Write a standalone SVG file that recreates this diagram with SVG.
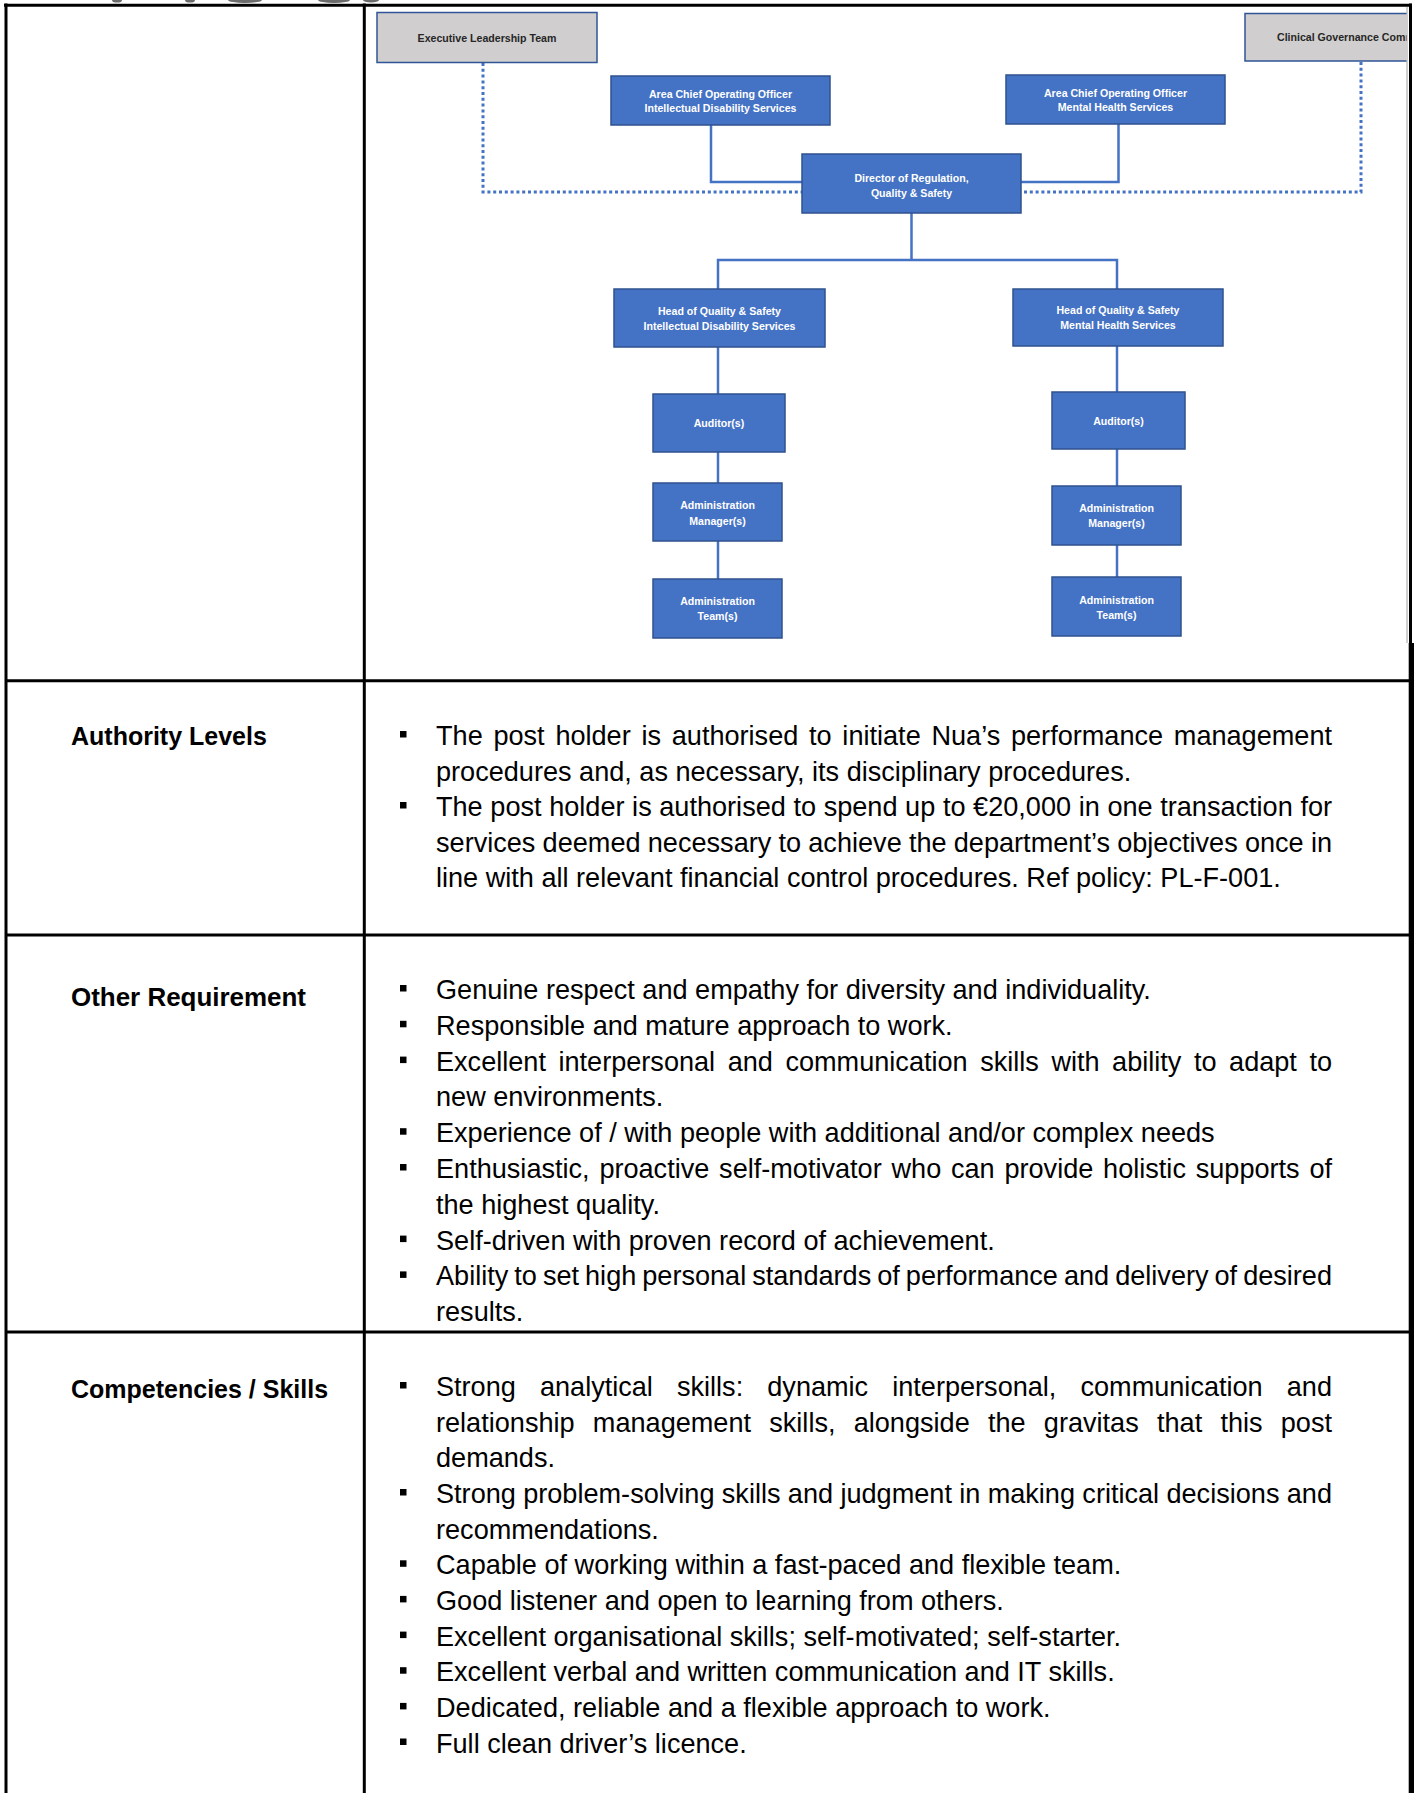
<svg xmlns="http://www.w3.org/2000/svg" width="1418" height="1793" viewBox="0 0 1418 1793">
<style>
.box{fill:#4472C4;stroke:#2F528F;stroke-width:1.5}
.gbox{fill:#D0CECE;stroke:#2F5597;stroke-width:1.5}
.nt{font-family:"Liberation Sans",Arial,sans-serif;font-weight:bold;font-size:10.6px;fill:#ffffff;text-anchor:middle}
.gt{font-family:"Liberation Sans",Arial,sans-serif;font-weight:bold;font-size:10.6px;fill:#262626}
.conn{fill:none;stroke:#4472C4;stroke-width:2.5}
.dot{fill:none;stroke:#4472C4;stroke-width:3;stroke-dasharray:3 2.8}
.body{font-family:"Liberation Sans",Arial,sans-serif;font-size:27.1px;fill:#000}
.lbl{font-family:"Liberation Sans",Arial,sans-serif;font-size:25px;font-weight:bold;fill:#000}
.rule{stroke:#000;stroke-width:3;fill:none}
.blt{fill:#000}
.glyph{fill:#6b6b6b}
</style>
<defs>
<clipPath id="chartclip"><rect x="366" y="7" width="1040.5" height="673"/></clipPath>
</defs>
<rect x="0" y="0" width="1418" height="1793" fill="#ffffff"/>

<g id="header-fragments">
<ellipse class="glyph" cx="117" cy="0" rx="5" ry="2.6"/>
<ellipse class="glyph" cx="190" cy="0" rx="5" ry="2.6"/>
<ellipse class="glyph" cx="245" cy="0" rx="17" ry="3"/>
<ellipse class="glyph" cx="334" cy="0" rx="16" ry="3"/>
<ellipse class="glyph" cx="371" cy="0" rx="8" ry="2.6"/>
</g>

<g id="table-grid">
<line class="rule" x1="4" y1="5.2" x2="1412" y2="5.2" stroke-width="3.3"/>
<line class="rule" x1="6" y1="3.5" x2="6" y2="1793" stroke-width="3.5"/>
<line class="rule" x1="364.3" y1="3.5" x2="364.3" y2="1793"/>
<line class="rule" x1="1410.5" y1="3.5" x2="1410.5" y2="1793" stroke-width="2.5"/>
<rect x="1408.7" y="643" width="5.3" height="1150" fill="#000"/>
<line x1="1407" y1="7" x2="1407" y2="643" stroke="#a0a0a0" stroke-width="1"/>
<line class="rule" x1="6" y1="680.7" x2="1411" y2="680.7"/>
<line class="rule" x1="6" y1="935" x2="1411" y2="935"/>
<line class="rule" x1="6" y1="1332" x2="1411" y2="1332"/>
</g>

<g id="connectors">
<path class="dot" d="M483 63 V192 H802"/>
<path class="dot" d="M1361 62 V192 H1021"/>
<path class="conn" d="M711 125 V182 H802"/>
<path class="conn" d="M1118.5 124 V182 H1021"/>
<path class="conn" d="M911.5 213 V260"/>
<path class="conn" d="M718 289 V260 H1117 V289"/>
<path class="conn" d="M718 347 V394"/>
<path class="conn" d="M718 452 V483"/>
<path class="conn" d="M718 541 V579"/>
<path class="conn" d="M1117 346 V392"/>
<path class="conn" d="M1117 449 V486"/>
<path class="conn" d="M1117 545 V577"/>
</g>

<g id="node-elt">
<rect class="gbox" x="377" y="12.5" width="220" height="50"/>
<text class="gt" x="487" y="41.5" text-anchor="middle">Executive Leadership Team</text>
</g>
<g id="node-cgc" clip-path="url(#chartclip)">
<rect class="gbox" x="1245" y="13.5" width="200" height="47.5"/>
<text class="gt" x="1277" y="41">Clinical Governance Comm</text>
</g>
<g id="node-coo-id">
<rect class="box" x="611" y="76" width="219" height="49"/>
<text class="nt" x="720.5" y="97.5">Area Chief Operating Officer</text>
<text class="nt" x="720.5" y="111.5">Intellectual Disability Services</text>
</g>
<g id="node-coo-mh">
<rect class="box" x="1006" y="75" width="219" height="49"/>
<text class="nt" x="1115.5" y="97">Area Chief Operating Officer</text>
<text class="nt" x="1115.5" y="111">Mental Health Services</text>
</g>
<g id="node-director">
<rect class="box" x="802" y="154" width="219" height="59"/>
<text class="nt" x="911.5" y="181.5">Director of Regulation,</text>
<text class="nt" x="911.5" y="196.5">Quality &amp; Safety</text>
</g>
<g id="node-hqs-id">
<rect class="box" x="614" y="289" width="211" height="58"/>
<text class="nt" x="719.5" y="315">Head of Quality &amp; Safety</text>
<text class="nt" x="719.5" y="330">Intellectual Disability Services</text>
</g>
<g id="node-hqs-mh">
<rect class="box" x="1013" y="289" width="210" height="57"/>
<text class="nt" x="1118" y="314">Head of Quality &amp; Safety</text>
<text class="nt" x="1118" y="329">Mental Health Services</text>
</g>
<g id="node-aud-id">
<rect class="box" x="653" y="394" width="132" height="58"/>
<text class="nt" x="719" y="427">Auditor(s)</text>
</g>
<g id="node-aud-mh">
<rect class="box" x="1052" y="392" width="133" height="57"/>
<text class="nt" x="1118.5" y="425">Auditor(s)</text>
</g>
<g id="node-am-id">
<rect class="box" x="653" y="483" width="129" height="58"/>
<text class="nt" x="717.5" y="509">Administration</text>
<text class="nt" x="717.5" y="524.5">Manager(s)</text>
</g>
<g id="node-am-mh">
<rect class="box" x="1052" y="486" width="129" height="59"/>
<text class="nt" x="1116.5" y="511.5">Administration</text>
<text class="nt" x="1116.5" y="527">Manager(s)</text>
</g>
<g id="node-at-id">
<rect class="box" x="653" y="579" width="129" height="59"/>
<text class="nt" x="717.5" y="604.5">Administration</text>
<text class="nt" x="717.5" y="620">Team(s)</text>
</g>
<g id="node-at-mh">
<rect class="box" x="1052" y="577" width="129" height="59"/>
<text class="nt" x="1116.5" y="603.5">Administration</text>
<text class="nt" x="1116.5" y="618.5">Team(s)</text>
</g>

<g id="authority">
<text class="lbl" x="71" y="745">Authority Levels</text>
<rect class="blt" x="400" y="731" width="6.5" height="6.5"/>
<rect class="blt" x="400" y="802" width="6.5" height="6.5"/>
<text class="body" x="436" y="745" word-spacing="3.2" textLength="896" lengthAdjust="spacing">The post holder is authorised to initiate Nua’s performance management</text>
<text class="body" x="436" y="780.5">procedures and, as necessary, its disciplinary procedures.</text>
<text class="body" x="436" y="816" word-spacing="0.1" textLength="896" lengthAdjust="spacing">The post holder is authorised to spend up to €20,000 in one transaction for</text>
<text class="body" x="436" y="851.5" word-spacing="-0.35" textLength="896" lengthAdjust="spacing">services deemed necessary to achieve the department’s objectives once in</text>
<text class="body" x="436" y="887">line with all relevant financial control procedures. Ref policy: PL-F-001.</text>
</g>

<g id="other-requirement">
<text class="lbl" x="71" y="1006" textLength="235" lengthAdjust="spacingAndGlyphs">Other Requirement</text>
<rect class="blt" x="400" y="985" width="6.5" height="6.5"/>
<rect class="blt" x="400" y="1020.8" width="6.5" height="6.5"/>
<rect class="blt" x="400" y="1056.6" width="6.5" height="6.5"/>
<rect class="blt" x="400" y="1128.2" width="6.5" height="6.5"/>
<rect class="blt" x="400" y="1164" width="6.5" height="6.5"/>
<rect class="blt" x="400" y="1235.6" width="6.5" height="6.5"/>
<rect class="blt" x="400" y="1271.4" width="6.5" height="6.5"/>
<text class="body" x="436" y="999">Genuine respect and empathy for diversity and individuality.</text>
<text class="body" x="436" y="1034.8">Responsible and mature approach to work.</text>
<text class="body" x="436" y="1070.6" word-spacing="5" textLength="896" lengthAdjust="spacing">Excellent interpersonal and communication skills with ability to adapt to</text>
<text class="body" x="436" y="1106.4">new environments.</text>
<text class="body" x="436" y="1142.2">Experience of / with people with additional and/or complex needs</text>
<text class="body" x="436" y="1178" word-spacing="2.25" textLength="896" lengthAdjust="spacing">Enthusiastic, proactive self-motivator who can provide holistic supports of</text>
<text class="body" x="436" y="1213.8">the highest quality.</text>
<text class="body" x="436" y="1249.6">Self-driven with proven record of achievement.</text>
<text class="body" x="436" y="1285.4" word-spacing="-1.5" textLength="896" lengthAdjust="spacing">Ability to set high personal standards of performance and delivery of desired</text>
<text class="body" x="436" y="1321.2">results.</text>
</g>

<g id="competencies">
<text class="lbl" x="71" y="1398">Competencies / Skills</text>
<rect class="blt" x="400" y="1382" width="6.5" height="6.5"/>
<rect class="blt" x="400" y="1489" width="6.5" height="6.5"/>
<rect class="blt" x="400" y="1560.3" width="6.5" height="6.5"/>
<rect class="blt" x="400" y="1595.9" width="6.5" height="6.5"/>
<rect class="blt" x="400" y="1631.6" width="6.5" height="6.5"/>
<rect class="blt" x="400" y="1667.2" width="6.5" height="6.5"/>
<rect class="blt" x="400" y="1702.9" width="6.5" height="6.5"/>
<rect class="blt" x="400" y="1738.5" width="6.5" height="6.5"/>
<text class="body" x="436" y="1396" word-spacing="16.6" textLength="896" lengthAdjust="spacing">Strong analytical skills: dynamic interpersonal, communication and</text>
<text class="body" x="436" y="1431.7" word-spacing="10.7" textLength="896" lengthAdjust="spacing">relationship management skills, alongside the gravitas that this post</text>
<text class="body" x="436" y="1467.3">demands.</text>
<text class="body" x="436" y="1503" word-spacing="-0.2" textLength="896" lengthAdjust="spacing">Strong problem-solving skills and judgment in making critical decisions and</text>
<text class="body" x="436" y="1538.6">recommendations.</text>
<text class="body" x="436" y="1574.3">Capable of working within a fast-paced and flexible team.</text>
<text class="body" x="436" y="1609.9">Good listener and open to learning from others.</text>
<text class="body" x="436" y="1645.6">Excellent organisational skills; self-motivated; self-starter.</text>
<text class="body" x="436" y="1681.2">Excellent verbal and written communication and IT skills.</text>
<text class="body" x="436" y="1716.9">Dedicated, reliable and a flexible approach to work.</text>
<text class="body" x="436" y="1752.5">Full clean driver’s licence.</text>
</g>
</svg>
